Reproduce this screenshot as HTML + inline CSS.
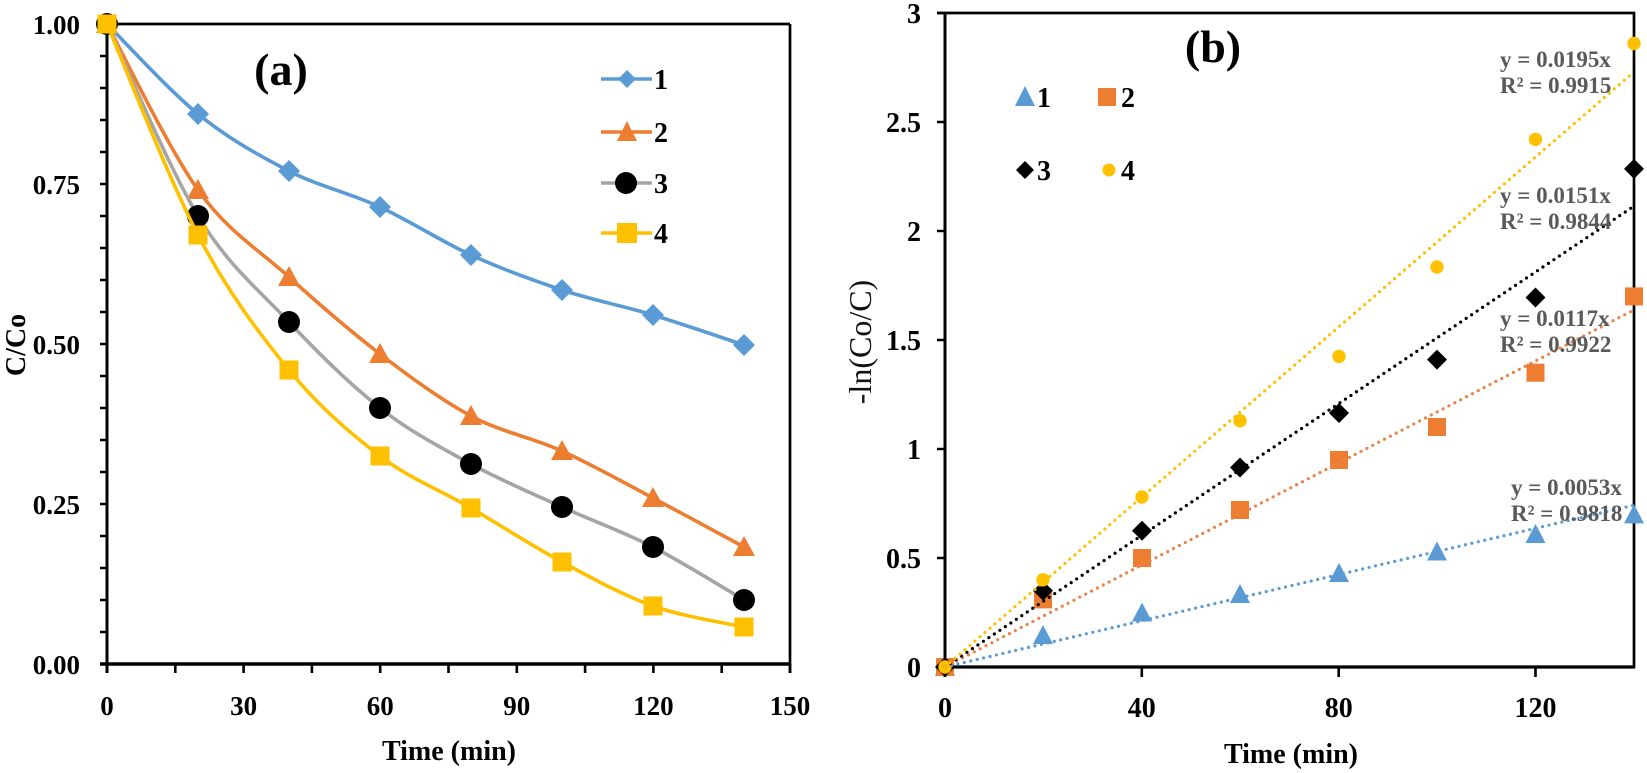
<!DOCTYPE html>
<html>
<head>
<meta charset="utf-8">
<style>
html,body{margin:0;padding:0;background:#fff;}
svg{display:block;}
text{font-family:"Liberation Serif","Times New Roman",serif;}
.b{font-weight:bold;}
</style>
</head>
<body>
<svg width="1647" height="773" viewBox="0 0 1647 773" xmlns="http://www.w3.org/2000/svg">
<rect x="0" y="0" width="1647" height="773" fill="#fff"/>

<!-- ================= PANEL A ================= -->
<g stroke="#000" fill="none">
  <line x1="107" y1="24" x2="790" y2="24" stroke-width="2.7"/>
  <line x1="790" y1="24" x2="790" y2="673" stroke-width="2.7"/>
  <line x1="107" y1="23" x2="107" y2="673" stroke-width="3"/>
  <line x1="100" y1="664" x2="791" y2="664" stroke-width="3.6"/>
  <!-- y ticks every 0.05 -->
  <path stroke-width="2.6" d="M100 24H107M100 56H107M100 88H107M100 120H107M100 152H107M100 184H107M100 216H107M100 248H107M100 280H107M100 312H107M100 344H107M100 376H107M100 408H107M100 440H107M100 472H107M100 504H107M100 536H107M100 568H107M100 600H107M100 632H107M100 664H107"/>
  <!-- x ticks every 15 -->
  <path stroke-width="2.6" d="M107 664V673M175.3 664V673M243.6 664V673M311.9 664V673M380.2 664V673M448.5 664V673M516.8 664V673M585.1 664V673M653.4 664V673M721.7 664V673M790 664V673"/>
</g>

<g class="b" font-size="27" fill="#000" text-anchor="end">
  <text x="80" y="34">1.00</text>
  <text x="80" y="194">0.75</text>
  <text x="80" y="354">0.50</text>
  <text x="80" y="514">0.25</text>
  <text x="80" y="674">0.00</text>
</g>
<g class="b" font-size="27" fill="#000" text-anchor="middle">
  <text x="107" y="715">0</text>
  <text x="243.6" y="715">30</text>
  <text x="380.2" y="715">60</text>
  <text x="516.8" y="715">90</text>
  <text x="653.4" y="715">120</text>
  <text x="790" y="715">150</text>
</g>
<text class="b" font-size="28" x="449" y="760" text-anchor="middle">Time (min)</text>
<text class="b" font-size="28" transform="translate(25,345) rotate(-90)" text-anchor="middle">C/Co</text>
<text class="b" font-size="46" x="281" y="85" text-anchor="middle">(a)</text>

<!-- series 1 -->
<path fill="none" stroke="#5B9BD5" stroke-width="3.6" stroke-linejoin="round" d="M107 24C122 39 168 89.5 198 114C228 138.5 259 155.5 289 171C319 186.5 350 193 380 207C410 221 441 241.2 471 255C501 268.8 532 280 562 290C592 300 623 305.8 653 315C683 324.2 729 340 744 345"/>
<g fill="#5B9BD5">
  <polygon points="107,13 118,24 107,35 96,24"/>
  <polygon points="198,103 209,114 198,125 187,114"/>
  <polygon points="289,160 300,171 289,182 278,171"/>
  <polygon points="380,196 391,207 380,218 369,207"/>
  <polygon points="471,244 482,255 471,266 460,255"/>
  <polygon points="562,279 573,290 562,301 551,290"/>
  <polygon points="653,304 664,315 653,326 642,315"/>
  <polygon points="744,334 755,345 744,356 733,345"/>
</g>
<!-- series 2 -->
<path fill="none" stroke="#ED7D31" stroke-width="3.6" stroke-linejoin="round" d="M107 24C122 51.7 168 147.8 198 190C228 232.2 259 249.7 289 277C319 304.3 350 330.8 380 354C410 377.2 441 399.8 471 416C501 432.2 532 437.3 562 451C592 464.7 623 482 653 498C683 514 729 538.8 744 547"/>
<g fill="#ED7D31">
  <polygon points="107,13 118,33 96,33"/>
  <polygon points="198,179 209,199 187,199"/>
  <polygon points="289,266 300,286 278,286"/>
  <polygon points="380,343 391,363 369,363"/>
  <polygon points="471,405 482,425 460,425"/>
  <polygon points="562,440 573,460 551,460"/>
  <polygon points="653,487 664,507 642,507"/>
  <polygon points="744,536 755,556 733,556"/>
</g>
<!-- series 3 -->
<path fill="none" stroke="#A5A5A5" stroke-width="3.6" stroke-linejoin="round" d="M107 24C122 56 168 166.3 198 216C228 265.7 259 290 289 322C319 354 350 384.3 380 408C410 431.7 441 447.5 471 464C501 480.5 532 493.2 562 507C592 520.8 623 531.5 653 547C683 562.5 729 591.2 744 600"/>
<g fill="#000">
  <circle cx="107" cy="24" r="11"/>
  <circle cx="198" cy="216" r="11"/>
  <circle cx="289" cy="322" r="11"/>
  <circle cx="380" cy="408" r="11"/>
  <circle cx="471" cy="464" r="11"/>
  <circle cx="562" cy="507" r="11"/>
  <circle cx="653" cy="547" r="11"/>
  <circle cx="744" cy="600" r="11"/>
</g>
<!-- series 4 -->
<path fill="none" stroke="#FFC000" stroke-width="3.6" stroke-linejoin="round" d="M107 24C122 59.2 168 177.3 198 235C228 292.7 259 333.2 289 370C319 406.8 350 433 380 456C410 479 441 490.3 471 508C501 525.7 532 545.7 562 562C592 578.3 623 595.2 653 606C683 616.8 729 623.5 744 627"/>
<g fill="#FFC000">
  <rect x="97.5" y="14.5" width="19" height="19"/>
  <rect x="188.5" y="225.5" width="19" height="19"/>
  <rect x="279.5" y="360.5" width="19" height="19"/>
  <rect x="370.5" y="446.5" width="19" height="19"/>
  <rect x="461.5" y="498.5" width="19" height="19"/>
  <rect x="552.5" y="552.5" width="19" height="19"/>
  <rect x="643.5" y="596.5" width="19" height="19"/>
  <rect x="734.5" y="617.5" width="19" height="19"/>
</g>

<!-- legend a -->
<line x1="601" y1="79" x2="652" y2="79" stroke="#5B9BD5" stroke-width="3.6"/>
<polygon points="627,70 636,79 627,88 618,79" fill="#5B9BD5"/>
<line x1="601" y1="132" x2="652" y2="132" stroke="#ED7D31" stroke-width="3.6"/>
<polygon points="627,121 637,141 617,141" fill="#ED7D31"/>
<line x1="601" y1="183" x2="652" y2="183" stroke="#A5A5A5" stroke-width="3.6"/>
<circle cx="626" cy="183" r="11" fill="#000"/>
<line x1="601" y1="233" x2="652" y2="233" stroke="#FFC000" stroke-width="3.6"/>
<rect x="617" y="223" width="20" height="20" fill="#FFC000"/>
<g class="b" font-size="28" fill="#000">
  <text x="654" y="89">1</text>
  <text x="654" y="142">2</text>
  <text x="654" y="193">3</text>
  <text x="654" y="243">4</text>
</g>

<!-- ================= PANEL B ================= -->
<g stroke="#000" fill="none">
  <line x1="937" y1="13" x2="1635" y2="13" stroke-width="2.7"/>
  <line x1="1634" y1="12" x2="1634" y2="668" stroke-width="2.7"/>
  <line x1="945" y1="12" x2="945" y2="677" stroke-width="3"/>
  <line x1="937" y1="667" x2="1635" y2="667" stroke-width="3.2"/>
  <path stroke-width="2.6" d="M937 13H945M937 122H945M937 231H945M937 340H945M937 449H945M937 558H945M937 667H945"/>
  <path stroke-width="2.6" d="M945 667V677M1141.8 667V677M1338.7 667V677M1535.5 667V677"/>
</g>
<g class="b" font-size="28" fill="#000" text-anchor="end">
  <text x="921" y="23">3</text>
  <text x="921" y="132">2.5</text>
  <text x="921" y="241">2</text>
  <text x="921" y="350">1.5</text>
  <text x="921" y="459">1</text>
  <text x="921" y="568">0.5</text>
  <text x="921" y="677">0</text>
</g>
<g class="b" font-size="28" fill="#000" text-anchor="middle">
  <text x="945" y="717">0</text>
  <text x="1141.8" y="717">40</text>
  <text x="1338.7" y="717">80</text>
  <text x="1535.5" y="717">120</text>
</g>
<text class="b" font-size="28" x="1291" y="763" text-anchor="middle">Time (min)</text>
<text font-size="32" fill="#111" transform="translate(871,342) rotate(-90)" text-anchor="middle">-ln(Co/C)</text>
<text class="b" font-size="46" x="1213" y="62" text-anchor="middle">(b)</text>

<!-- markers b -->
<g fill="#5B9BD5">
  <polygon points="945,657 955,676 935,676"/>
  <polygon points="1043,625 1053,644 1033,644"/>
  <polygon points="1142,602.5 1152,621.5 1132,621.5"/>
  <polygon points="1240,584 1250,603 1230,603"/>
  <polygon points="1339,563 1349,582 1329,582"/>
  <polygon points="1437,541.5 1447,560.5 1427,560.5"/>
  <polygon points="1535.5,524 1545.5,543 1525.5,543"/>
  <polygon points="1634,504.4 1644,523.4 1624,523.4"/>
</g>
<g fill="#ED7D31">
  <rect x="936" y="658" width="18" height="18"/>
  <rect x="1034" y="590.4" width="18" height="18"/>
  <rect x="1133" y="549" width="18" height="18"/>
  <rect x="1231" y="501" width="18" height="18"/>
  <rect x="1330" y="451" width="18" height="18"/>
  <rect x="1428" y="418" width="18" height="18"/>
  <rect x="1526.5" y="363.7" width="18" height="18"/>
  <rect x="1625" y="287.4" width="18" height="18"/>
</g>
<g fill="#000">
  <polygon points="945,657 955,667 945,677 935,667"/>
  <polygon points="1043,580.7 1053,590.7 1043,600.7 1033,590.7"/>
  <polygon points="1142,520.8 1152,530.8 1142,540.8 1132,530.8"/>
  <polygon points="1240,457.5 1250,467.5 1240,477.5 1230,467.5"/>
  <polygon points="1339,403 1349,413 1339,423 1329,413"/>
  <polygon points="1437,349.6 1447,359.6 1437,369.6 1427,359.6"/>
  <polygon points="1535.5,287.5 1545.5,297.5 1535.5,307.5 1525.5,297.5"/>
  <polygon points="1634,158.9 1644,168.9 1634,178.9 1624,168.9"/>
</g>
<g fill="#FFC000">
  <circle cx="945" cy="667" r="6.7"/>
  <circle cx="1043" cy="579.8" r="6.7"/>
  <circle cx="1142" cy="497" r="6.7"/>
  <circle cx="1240" cy="420.7" r="6.7"/>
  <circle cx="1339" cy="356.4" r="6.7"/>
  <circle cx="1437" cy="267" r="6.7"/>
  <circle cx="1535.5" cy="139.4" r="6.7"/>
  <circle cx="1634" cy="43.5" r="6.7"/>
</g>

<!-- trendlines -->
<g fill="none" stroke-width="3.2" stroke-linecap="round" stroke-dasharray="0 6.6">
  <line x1="945" y1="667" x2="1634" y2="505.2" stroke="#5B9BD5"/>
  <line x1="945" y1="667" x2="1634" y2="309.9" stroke="#E8844A"/>
  <line x1="945" y1="667" x2="1634" y2="206.1" stroke="#000"/>
  <line x1="945" y1="667" x2="1634" y2="71.9" stroke="#FFC000"/>
</g>

<!-- equations -->
<g class="b" font-size="23" fill="#595959">
  <text x="1500" y="67">y = 0.0195x</text>
  <text x="1500" y="93">R² = 0.9915</text>
  <text x="1500" y="203">y = 0.0151x</text>
  <text x="1500" y="229">R² = 0.9844</text>
  <text x="1500" y="326">y = 0.0117x</text>
  <text x="1500" y="352">R² = 0.9922</text>
  <text x="1511" y="495">y = 0.0053x</text>
  <text x="1511" y="521">R² = 0.9818</text>
</g>

<!-- legend b -->
<polygon points="1025,86 1035,106 1015,106" fill="#5B9BD5"/>
<rect x="1098" y="88" width="18" height="18" fill="#ED7D31"/>
<polygon points="1025,161 1034,170 1025,179 1016,170" fill="#000"/>
<circle cx="1109" cy="170" r="6.5" fill="#FFC000"/>
<g class="b" font-size="28" fill="#000">
  <text x="1037" y="107">1</text>
  <text x="1121" y="107">2</text>
  <text x="1037" y="180">3</text>
  <text x="1121" y="180">4</text>
</g>
</svg>
</body>
</html>
